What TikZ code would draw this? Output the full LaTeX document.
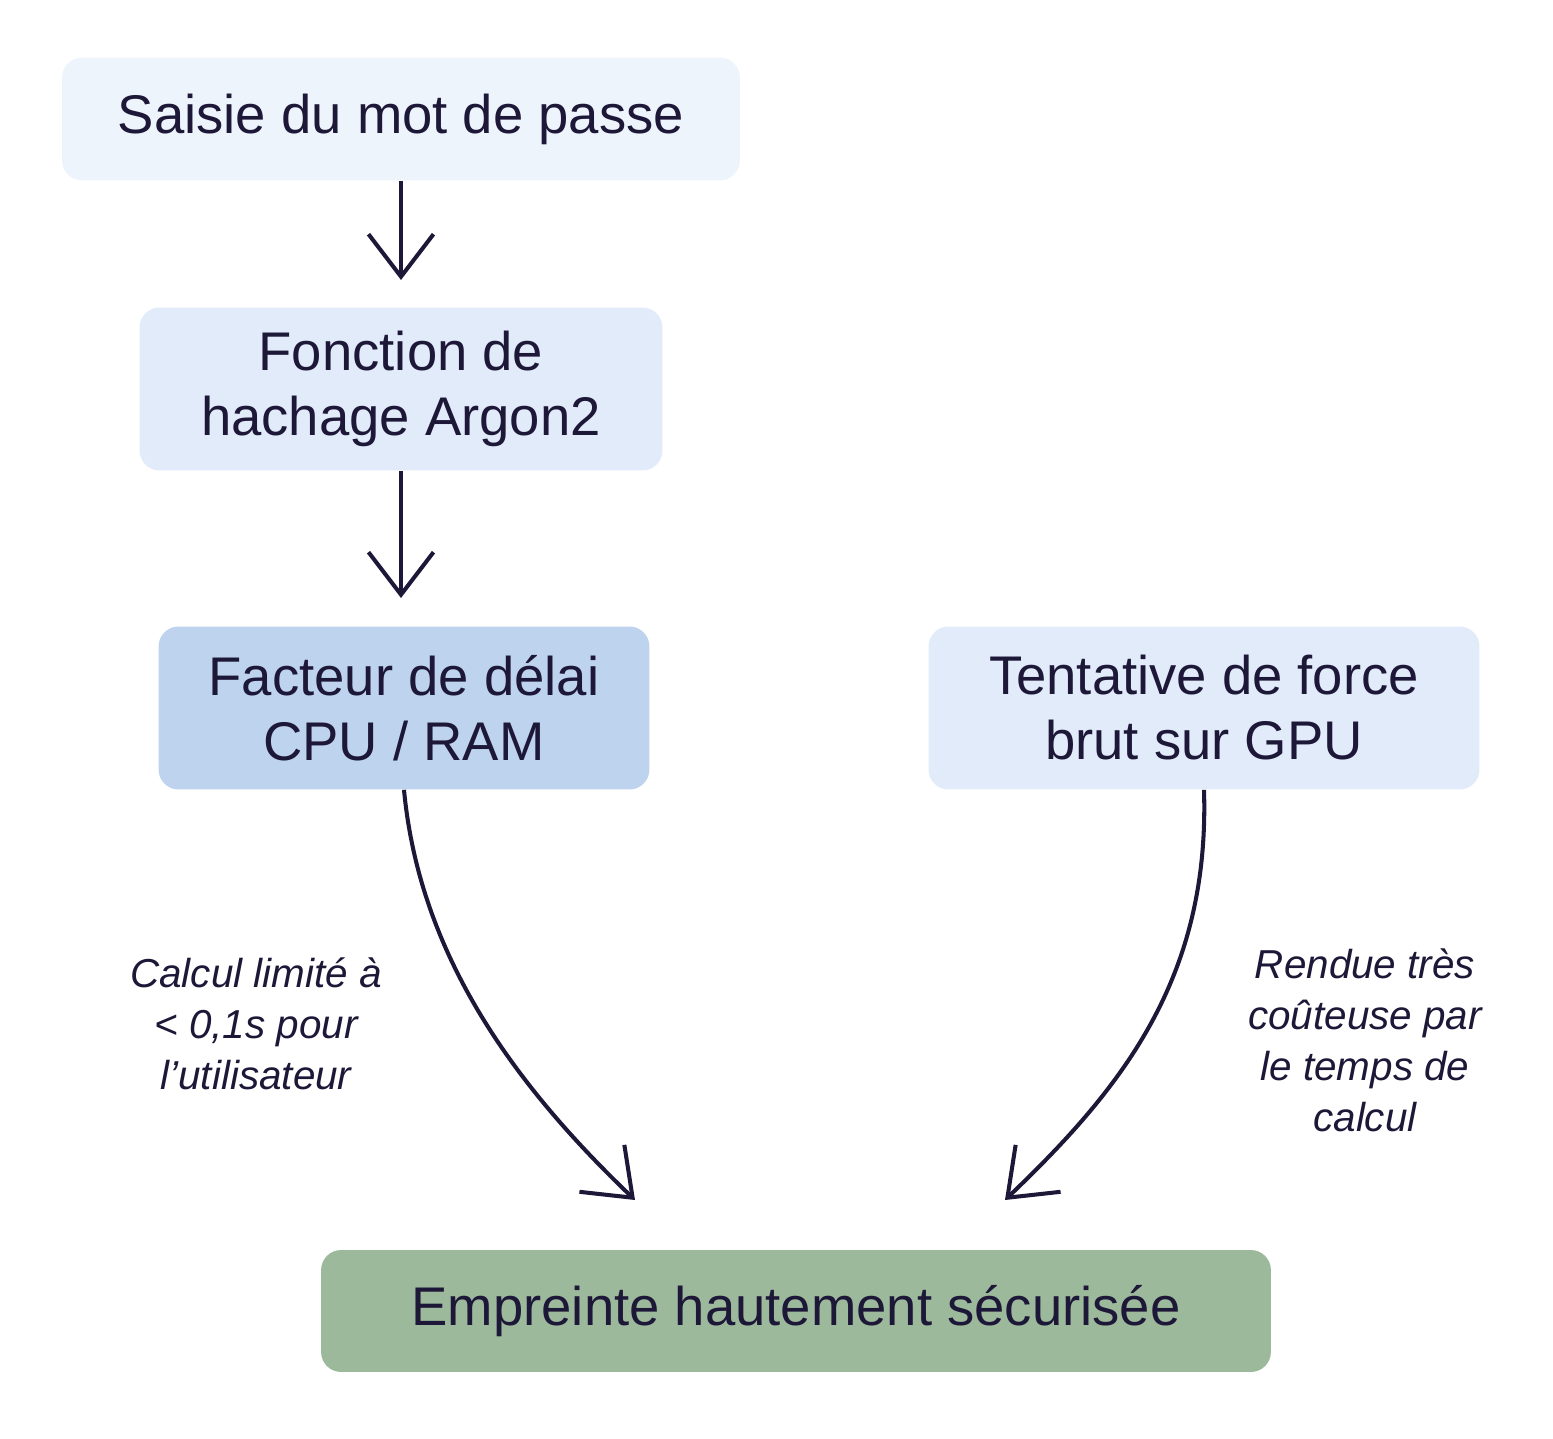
\documentclass[tikz,border=0pt]{standalone}
\usepackage{fontspec}
\setmainfont{Liberation Sans}
\usetikzlibrary{positioning}
\usetikzlibrary{arrows.meta}
\definecolor{ink}{HTML}{1E1838}
\definecolor{paleblue}{HTML}{EEF4FC}
\definecolor{lightblue}{HTML}{E1EBF9}
\definecolor{midblue}{HTML}{BDD3EE}
\definecolor{sage}{HTML}{9DB99C}
\begin{document}
\begin{tikzpicture}[x=0.02cm, y=-0.02cm,
  box/.style={rounded corners=0.4cm, align=center, text=ink, font=\fontsize{31}{37}\selectfont, inner sep=0pt},
  arrow/.style={-{Straight Barb[length=0.85cm, width=1.3cm, line width=2.3pt]}, line width=2.3pt, draw=ink},
  note/.style={align=center, text=ink, font=\itshape\fontsize{23}{29}\selectfont}
]
\useasboundingbox (0,0) rectangle (1553,1439);
\node[box, fill=paleblue, minimum width=13.56cm, minimum height=2.46cm] (input) at (401,119) {Saisie du mot de passe};
\node[box, fill=lightblue, minimum width=10.46cm, minimum height=3.26cm] (hash) at (401,389) {Fonction de\\hachage Argon2};
\node[box, fill=midblue, minimum width=9.82cm, minimum height=3.26cm] (delay) at (404,708) {Facteur de délai\\CPU / RAM};
\node[box, fill=lightblue, minimum width=11.02cm, minimum height=3.26cm] (brute) at (1204,708) {Tentative de force\\brut sur GPU};
\node[box, fill=sage, minimum width=19cm, minimum height=2.44cm] (result) at (796,1311) {Empreinte hautement sécurisée};
\coordinate (inL) at (635,1200);
\coordinate (inR) at (1005,1200);

\draw[arrow] (input) -- (401,280);
\draw[arrow] (hash) -- (401,598);
\draw[arrow] (delay.south) .. controls (420,960) and (520,1090) .. (inL);
\draw[arrow] (brute.south) .. controls (1210,980) and (1120,1090) .. (inR);

\node[note] (slow) at (256,1024) {Calcul limité à\\< 0,1s pour\\l’utilisateur};
\node[note] (costly) at (1365,1040) {Rendue très\\coûteuse par\\le temps de\\calcul};
\end{tikzpicture}
\end{document}
